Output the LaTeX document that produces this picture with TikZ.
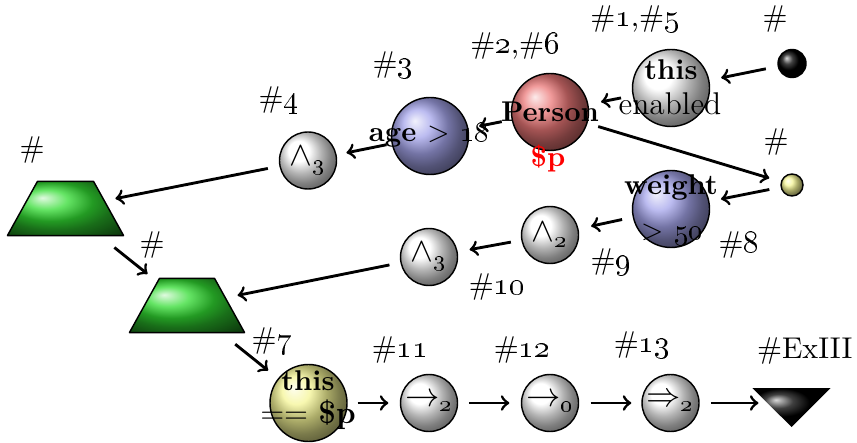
\documentclass[tikz,border=0pt]{standalone}
\begin{document}
\begin{tikzpicture}[x=0.35pt,y=-0.35pt,
  ballnode/.style={circle, draw, line width=0.5pt, inner sep=0pt},
  big/.style={ballnode, minimum size=26.95pt},
  sml/.style={ballnode, minimum size=19.95pt},
  grayball/.style={ball color=white},
  redball/.style={ball color={rgb,255:red,235;green,120;blue,120}},
  blueball/.style={ball color={rgb,255:red,165;green,165;blue,235}},
  yelball/.style={ball color={rgb,255:red,245;green,245;blue,150}},
  greenball/.style={ball color={rgb,255:red,50;green,220;blue,50}},
  lbl/.style={anchor=base, inner sep=0pt, font=\fontsize{10.5}{12}\selectfont},
  txtb/.style={anchor=base, inner sep=0pt, font=\fontsize{10}{12}\selectfont\bfseries},
  txtr/.style={anchor=base, inner sep=0pt, font=\fontsize{11}{13}\selectfont},
  symb/.style={inner sep=0pt, font=\fontsize{11.5}{13}\selectfont},
  edge/.style={->, line width=1pt},
  sh/.style 2 args={shorten <=#1, shorten >=#2}
]
\useasboundingbox (0,0) rectangle (857,443);

% ---------- shapes ----------
\node[ballnode, minimum size=9.8pt, ball color=black] (blk) at (792,63.5) {};
\node[ballnode, minimum size=7.7pt, yelball] (ylw) at (792,185) {};
\node[big, grayball] (thisE) at (671,88) {};
\node[big, redball] (person) at (550,112) {};
\node[big, blueball] (age) at (430,136) {};
\node[sml, grayball] (and3a) at (308,160.5) {};
\node[big, blueball] (weight) at (671,209) {};
\node[sml, grayball] (and2) at (550,235) {};
\node[sml, grayball] (and3b) at (429,257) {};
\node[big, yelball] (Y) at (308.5,403) {};
\node[sml, grayball] (r2) at (429,403) {};
\node[sml, grayball] (r0) at (550,403) {};
\node[sml, grayball] (R2) at (670.5,403) {};

\node[inner sep=0pt, minimum width=40.25pt, minimum height=18.55pt] (t1) at (65.5,208.5) {};
\shade[greenball] (t1.south west) -- (t1.south east) -- ([xshift=-10.5pt]t1.north east) -- ([xshift=10.5pt]t1.north west) -- cycle;
\draw[line width=0.5pt, line join=round] (t1.south west) -- (t1.south east) -- ([xshift=-10.5pt]t1.north east) -- ([xshift=10.5pt]t1.north west) -- cycle;

\node[inner sep=0pt, minimum width=39.9pt, minimum height=18.55pt] (t2) at (187,305.5) {};
\shade[greenball] (t2.south west) -- (t2.south east) -- ([xshift=-10.5pt]t2.north east) -- ([xshift=10.5pt]t2.north west) -- cycle;
\draw[line width=0.5pt, line join=round] (t2.south west) -- (t2.south east) -- ([xshift=-10.5pt]t2.north east) -- ([xshift=10.5pt]t2.north west) -- cycle;

\node[inner sep=0pt, minimum width=26.95pt, minimum height=0pt] (tri) at (791.5,403) {};
\shade[ball color=black] ([yshift=5.25pt]tri.west) -- ([yshift=5.25pt]tri.east) -- ([yshift=-8.4pt]tri.center) -- cycle;

% ---------- connectors ----------
\draw[edge, sh={4.2pt}{4.2pt}] (blk) -- (thisE);
\draw[edge, sh={4.1pt}{4.5pt}] (thisE) -- (person);
\draw[edge, sh={3.5pt}{3.8pt}] (person) -- (age);
\draw[edge, sh={1.8pt}{3.5pt}] (age) -- (and3a);
\draw[edge, sh={4.1pt}{-2.9pt}] (and3a) -- (t1);
\draw[edge, sh={6.7pt}{2.5pt}] (t1) -- (t2);
\draw[edge, sh={3.9pt}{4.2pt}] (person) -- (ylw);
\draw[edge, sh={4pt}{4.1pt}] (ylw) -- (weight);
\draw[edge, sh={3.8pt}{4.5pt}] (weight) -- (and2);
\draw[edge, sh={3.7pt}{4.2pt}] (and2) -- (and3b);
\draw[edge, sh={3.9pt}{-2.5pt}] (and3b) -- (t2);
\draw[edge, sh={6.5pt}{4.4pt}] (t2) -- (Y);
\draw[edge, sh={3.5pt}{4pt}] (Y) -- (r2);
\draw[edge, sh={3.7pt}{4pt}] (r2) -- (r0);
\draw[edge, sh={4pt}{3.5pt}] (r0) -- (R2);
\draw[edge, sh={3.9pt}{-2.1pt}] (R2) -- (tri);

% ---------- texts in shapes ----------
\node[txtb] (thisEa) at (671,80) {this};
\node[txtr] (thisEb) at (670,115) {enabled};
\node[txtb] (personT) at (550,122) {Person};
\node[txtb, text=red] (personP) at (548,167) {\$p};
\node[txtb] (ageT) at (429,142) {age \textmd{$>$} \oldstylenums{18}};
\node[txtb] (weightT) at (671,195) {weight};
\node[txtb] (weightU) at (672,240) {\textmd{$>$} \oldstylenums{50}};
\node[symb] (and3aT) at (308,160.5) {$\wedge_{\mbox{\fontsize{8}{9}\selectfont\oldstylenums{3}}}$};
\node[symb] (and2T) at (550,235) {$\wedge_{\mbox{\fontsize{8}{9}\selectfont\oldstylenums{2}}}$};
\node[symb] (and3bT) at (429,257) {$\wedge_{\mbox{\fontsize{8}{9}\selectfont\oldstylenums{3}}}$};
\node[txtb] (YT) at (308,390) {this};
\node[txtr] (YU) at (308,423) {== \textbf{\$p}};
\node[symb] (r2T) at (429,403) {$\rightarrow_{\mbox{\fontsize{8}{9}\selectfont\bfseries\oldstylenums{2}}}$};
\node[symb] (r0T) at (550,403) {$\rightarrow_{\mbox{\fontsize{8}{9}\selectfont\bfseries\oldstylenums{0}}}$};
\node[symb] (R2T) at (670.5,403) {$\Rightarrow_{\mbox{\fontsize{8}{9}\selectfont\bfseries\oldstylenums{2}}}$};

% ---------- labels ----------
\node[lbl] (l1) at (775,27) {\#};
\node[lbl] (l2) at (635,27) {\#\oldstylenums{1},\#\oldstylenums{5}};
\node[lbl] (l3) at (515,54) {\#\oldstylenums{2},\#\oldstylenums{6}};
\node[lbl] (l4) at (393,73) {\#\oldstylenums{3}};
\node[lbl] (l5) at (279,108) {\#\oldstylenums{4}};
\node[lbl] (l6) at (32,158) {\#};
\node[lbl] (l7) at (152,253) {\#};
\node[lbl] (l8) at (776,150) {\#};
\node[lbl] (l9) at (739,253) {\#\oldstylenums{8}};
\node[lbl] (l10) at (611,270) {\#\oldstylenums{9}};
\node[lbl] (l11) at (497,295) {\#\oldstylenums{10}};
\node[lbl] (l12) at (272,348) {\#\oldstylenums{7}};
\node[lbl] (l13) at (400,357) {\#\oldstylenums{11}};
\node[lbl] (l14) at (522,357) {\#\oldstylenums{12}};
\node[lbl] (l15) at (642,352) {\#\oldstylenums{13}};
\node[lbl, anchor=base east] (l16) at (853,358) {\#ExIII};
\end{tikzpicture}
\end{document}
